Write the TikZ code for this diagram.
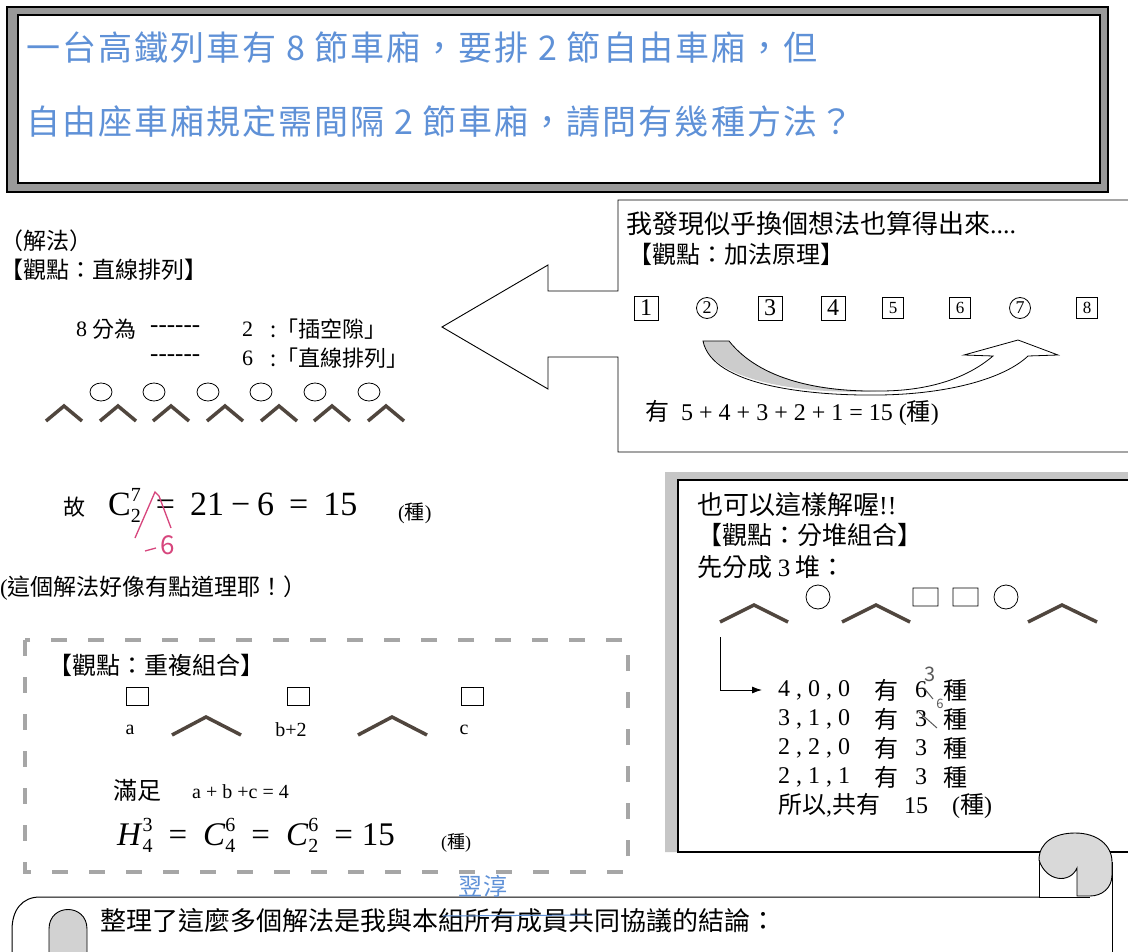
\documentclass[tikz,border=0pt]{standalone}
\usepackage{fontspec}
\setmainfont{Liberation Serif}
\newfontfamily\cjk{Noto Sans CJK TC}
\newfontfamily\handfont[LetterSpace=6]{Noto Sans CJK TC}
\usetikzlibrary{arrows.meta}
\newcommand\setfs[1]{\fontsize{#1}{#1}\selectfont}
\newcommand\supsub[2]{\rlap{\raisebox{14pt}{\setfs{20}#1}}\raisebox{-7pt}{\setfs{20}#2}}
\definecolor{inkblue}{RGB}{95,145,215}
\definecolor{inkred}{RGB}{215,70,125}
\definecolor{inkgray}{RGB}{90,90,90}
\definecolor{hatcol}{RGB}{80,70,62}
\tikzset{
  txt/.style={inner sep=0pt, anchor=west},
  hat/.style={draw=hatcol, line width=3.5pt},
  numbox/.style={draw, line width=0.8pt, inner sep=0pt, minimum size=24pt},
  smallbox/.style={draw, line width=0.8pt, inner sep=0pt, minimum size=21pt},
  ring/.style={draw, circle, line width=0.8pt, inner sep=0pt, minimum size=21pt},
  dashline/.style={draw=gray!70, line width=4pt, dash pattern=on 16pt off 21pt},
}
\begin{document}
\begin{tikzpicture}[x=1pt,y=-1pt]
   \useasboundingbox (0,0) rectangle (1128,952);
   \fill[white] (0,0) rectangle (1128,952);

   % problem frame
   \fill[black!40,even odd rule] (7,7) rectangle (1108,192) (18,15) rectangle (1100,183);
   \draw[line width=1.6pt] (7,7) rectangle (1108,192);
   \draw[line width=1.6pt] (18,15) rectangle (1100,183);
   \node[txt,text=inkblue,font=\handfont\setfs{34}] (q1) at (26,48) {一台高鐵列車有 8 節車廂，要排 2 節自由車廂，但};
   \node[txt,text=inkblue,font=\handfont\setfs{34}] (q2) at (26,122) {自由座車廂規定需間隔 2 節車廂，請問有幾種方法？};

   % straight line view
   \node[txt,font=\cjk\setfs{23}] (sol) at (0,241) {（解法）};
   \node[txt,font=\cjk\setfs{23}] (view1) at (0,270) {【觀點：直線排列】};
   \node[txt,font=\setfs{22}] (eight) at (76,329) {8};
   \node[txt,font=\cjk\setfs{22}] (split) at (92,329) {分為};
   \node[txt,font=\setfs{25}] (d1) at (150,329) {-{}-{}-{}-{}-{}-};
   \node[txt,font=\setfs{22}] (two) at (242,329) {2};
   \node[txt,font=\cjk\setfs{22}] (gap) at (270,329) {:「插空隙」};
   \node[txt,font=\setfs{25}] (d2) at (150,358) {-{}-{}-{}-{}-{}-};
   \node[txt,font=\setfs{22}] (six) at (242,358) {6};
   \node[txt,font=\cjk\setfs{22}] (line) at (270,358) {:「直線排列」};
   \draw[line width=0.8pt] (101,392) ellipse (11pt and 9pt) (154,392) ellipse (11pt and 9pt)
      (208,392) ellipse (11pt and 9pt) (261,392) ellipse (11pt and 9pt)
      (315,392) ellipse (11pt and 9pt) (369,392) ellipse (11pt and 9pt);
   \draw[hat] (46,421) -- (64,406) -- (82,421) (100,421) -- (118,406) -- (136,421)
      (153,421) -- (171,406) -- (189,421) (207,421) -- (225,406) -- (243,421)
      (261,421) -- (279,406) -- (297,421) (314,421) -- (332,406) -- (350,421)
      (368,421) -- (386,406) -- (404,421);

   % big arrow and addition box
   \draw[line width=0.9pt] (1128,200) -- (618,200) -- (618,291) -- (548,291) -- (548,265) -- (442,327)
      -- (548,389) -- (548,357) -- (618,357) -- (618,452) -- (1128,452);
   \node[txt,font=\cjk\setfs{26}] (idea) at (626,224) {我發現似乎換個想法也算得出來{\rmfamily....}};
   \node[txt,font=\cjk\setfs{24}] (view2) at (628,254) {【觀點：加法原理】};
   \node[numbox,font=\setfs{24}] (c1) at (646,308) {1};
   \node[ring,font=\setfs{18}] (c2) at (707,308) {2};
   \node[numbox,font=\setfs{24}] (c3) at (770,308) {3};
   \node[numbox,font=\setfs{24}] (c4) at (833,308) {4};
   \node[smallbox,font=\setfs{17}] (c5) at (893,308) {5};
   \node[smallbox,font=\setfs{17}] (c6) at (960,308) {6};
   \node[ring,font=\setfs{18}] (c7) at (1020,308) {7};
   \node[smallbox,font=\setfs{17}] (c8) at (1087,308) {8};
   \fill[gray!40] (703,341) -- (729,341) .. controls (760,380) and (820,391) .. (880,391)
      .. controls (820,395) and (712,385) .. (703,341) -- cycle;
   \draw[line width=0.8pt] (703,341) .. controls (712,386) and (810,396) .. (880,395)
      .. controls (950,394) and (1005,378) .. (1028,356) -- (1058,355) -- (1018,340) -- (964,355)
      -- (993,356) .. controls (965,380) and (925,391) .. (880,391)
      .. controls (820,392) and (760,380) .. (729,341) -- cycle;
   \node[txt,font=\setfs{24}] (sum) at (645,413) {{\cjk 有}\ \ 5 + 4 + 3 + 2 + 1 = 15 ({\cjk 種})};

   % result of straight line view
   \node[txt,font=\cjk\setfs{22}] (gu) at (63,507) {故};
   \node[txt,font=\setfs{34}] (c72) at (108,505) {C\supsub{7}{2}\hspace{15pt}=\hspace{15pt}21\hspace{7pt}−\hspace{7pt}6\hspace{15pt}=\hspace{15pt}15};
   \node[txt,font=\setfs{20}] (kind1) at (398,513) {({\cjk 種})};
   \draw[inkred,line width=1.3pt] (135,538) -- (155,492) -- (159,496) -- (171,528);
   \draw[inkred,line width=1.3pt] (145,551) -- (156,548);
   \node[text=inkred,font=\handfont\setfs{26}] (red6) at (168,545) {6};
   \node[txt,font=\cjk\setfs{23}] (remark) at (0,588) {{\rmfamily(}這個解法好像有點道理耶！）};

   % repeated combination view
   \draw[dashline] (25,640) rectangle (628,872);
   \node[txt,font=\cjk\setfs{24}] (view3) at (48,665) {【觀點：重複組合】};
   \draw[line width=0.8pt] (126,687) rectangle (148,705) (287,687) rectangle (309,705) (461,687) rectangle (483,705);
   \node[font=\setfs{20}] (la) at (130,730) {a};
   \node[font=\setfs{20}] (lb) at (291,730) {b+2};
   \node[font=\setfs{20}] (lc) at (464,730) {c};
   \draw[hat] (172,735) -- (206,717) -- (241,735) (358,735) -- (392,717) -- (427,735);
   \node[txt,font=\cjk\setfs{24}] (meet) at (113,790) {滿足};
   \node[txt,font=\setfs{20}] (abc) at (192,792) {a + b +c = 4};
   \node[txt,font=\setfs{33}] (hform) at (117,835) {\textit{H}\supsub{3}{4}\hspace{16pt}=\hspace{16pt}\textit{C}\supsub{6}{4}\hspace{16pt}=\hspace{16pt}\textit{C}\supsub{6}{2}\hspace{16pt}=\hspace{9pt}15};
   \node[txt,font=\setfs{18}] (kind2) at (441,843) {({\cjk 種})};

   % grouping view
   \fill[gray!45] (665,472) -- (1128,472) -- (1128,480) -- (678,480) -- (678,852) -- (665,852) -- cycle;
   \draw[line width=1.2pt] (1128,480) -- (678,480) -- (678,852) -- (1128,852);
   \node[txt,font=\cjk\setfs{26}] (also) at (697,505) {也可以這樣解喔{\rmfamily!!}};
   \node[txt,font=\cjk\setfs{25}] (view4) at (697,535) {【觀點：分堆組合】};
   \node[txt,font=\cjk\setfs{25}] (three) at (697,567) {先分成 {\rmfamily 3} 堆：};
   \draw[hat] (720,622) -- (754,605) -- (788,622) (842,622) -- (876,605) -- (910,622)
      (1028,622) -- (1062,605) -- (1097,622);
   \draw[line width=0.8pt] (818,597) circle (12pt) (1006,597) circle (12pt)
      (913,588) rectangle (938,606) (953,588) rectangle (978,606);
   \node[txt,font=\setfs{24}] (r1) at (778,690) {4 , 0 , 0};
   \node[txt,font=\setfs{24}] (r2) at (778,719) {3 , 1 , 0};
   \node[txt,font=\setfs{24}] (r3) at (778,748) {2 , 2 , 0};
   \node[txt,font=\setfs{24}] (r4) at (778,777) {2 , 1 , 1};
   \node[font=\cjk\setfs{24}] (h1) at (886,690) {有};
   \node[font=\cjk\setfs{24}] (h2) at (886,719) {有};
   \node[font=\cjk\setfs{24}] (h3) at (886,748) {有};
   \node[font=\cjk\setfs{24}] (h4) at (886,777) {有};
   \node[font=\setfs{24}] (n1) at (921,690) {6};
   \node[font=\setfs{24}] (n2) at (921,719) {3};
   \node[font=\setfs{24}] (n3) at (921,748) {3};
   \node[font=\setfs{24}] (n4) at (921,777) {3};
   \node[font=\cjk\setfs{24}] (k1) at (955,690) {種};
   \node[font=\cjk\setfs{24}] (k2) at (955,719) {種};
   \node[font=\cjk\setfs{24}] (k3) at (955,748) {種};
   \node[font=\cjk\setfs{24}] (k4) at (955,777) {種};
   \node[txt,font=\cjk\setfs{24}] (total) at (778,806) {所以{\rmfamily,}共有\quad{\rmfamily 15}\quad{\rmfamily(}種{\rmfamily)}};
   \coordinate (elb) at (720,637);
   \draw[line width=0.9pt,-{Latex[length=10pt,width=7pt]},shorten >=16pt] (elb) |- (r1.west);
   \node[text=inkgray,font=\handfont\setfs{20}] (g3) at (930,674) {3};
   \node[text=inkgray,font=\handfont\setfs{13}] (g6) at (940,704) {6};
   \draw[inkgray,line width=1pt] (924,688) -- (933,699) (919,712) -- (937,728);

   % conclusion scroll
   \draw[line width=1pt] (12,952) -- (12,930) .. controls (12,910) and (22,897) .. (40,897) -- (1039,897);
   \filldraw[fill=gray!35,line width=0.9pt] (49,952) -- (49,929) .. controls (49,903) and (87,903) .. (87,929) -- (87,952);
   \node[txt,font=\cjk\setfs{26}] (concl) at (100,921) {整理了這麼多個解法是我與本組所有成員共同協議的結論：};
   \draw[inkblue,line width=1pt] (443,916) -- (587,915);
   \node[text=inkblue,font=\handfont\setfs{24}] (name) at (483,886) {翌淳};
   \filldraw[fill=gray!30,line width=0.9pt] (1039,860) .. controls (1039,842) and (1055,833) .. (1075,833)
      .. controls (1097,833) and (1112,845) .. (1112,862) -- (1112,875) .. controls (1112,888) and (1102,896) .. (1090,896)
      -- (1077,896) -- (1077,868) .. controls (1070,884) and (1046,882) .. (1039,860) -- cycle;
   \draw[line width=0.9pt] (1039,860) -- (1039,897) -- (1090,897);
   \draw[line width=1pt] (1112,862) -- (1112,952);
 \end{tikzpicture}
\end{document}
